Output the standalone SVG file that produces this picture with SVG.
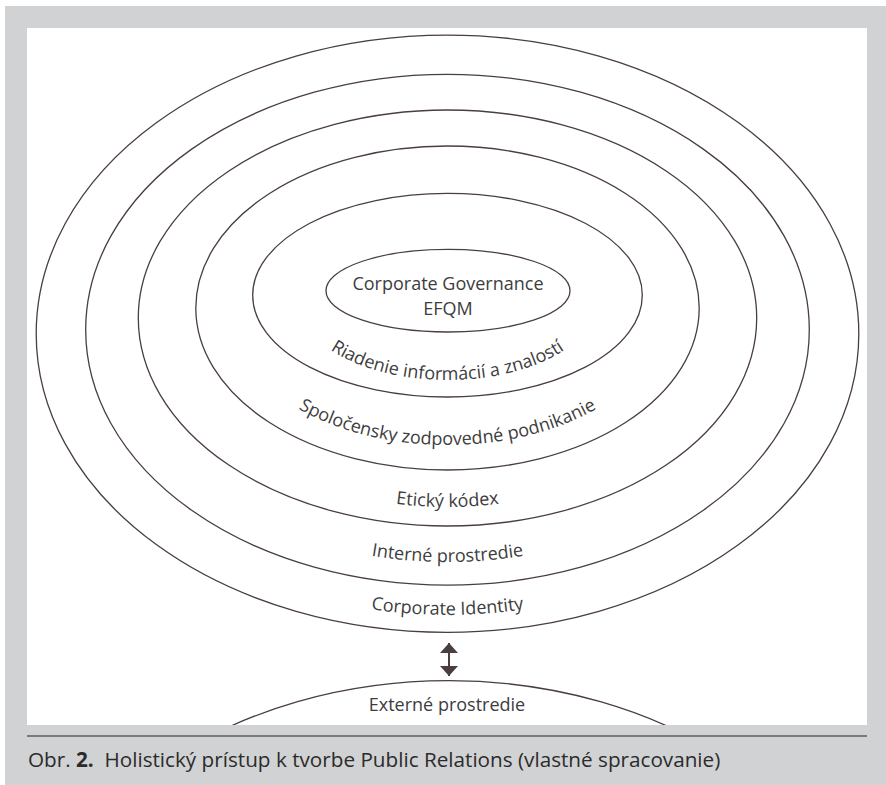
<svg xmlns="http://www.w3.org/2000/svg" width="886" height="785" viewBox="0 0 886 785">
  <style>
    .ring { fill: none; stroke: #4a3e3f; stroke-width: 1.3; }
    .lbl { font-family: "Open Sans", "Liberation Sans", sans-serif; font-size: 18px; fill: #3d3d3d; }
    .cap { font-family: "Open Sans", "Liberation Sans", sans-serif; font-size: 20.7px; fill: #2b2b2b; }
    .conn { stroke: #4a3e3f; stroke-width: 2; fill: none; }
  </style>
  <defs>
    <marker id="head" viewBox="0 0 10 18" refX="10" refY="9" markerWidth="10" markerHeight="18" markerUnits="userSpaceOnUse" orient="auto-start-reverse">
      <path d="M0,0 L10,9 L0,18 z" fill="#4a3e3f"/>
    </marker>
    <clipPath id="panelClip">
      <rect x="27" y="28" width="840" height="697"/>
    </clipPath>
    <!-- baselines for the curved ring labels -->
    <path id="arc1" d="M 299.5 302 A 148 78 0 0 0 595.5 302"/>
    <path id="arc2" d="M 232.5 315 A 215 130 0 0 0 662.5 315"/>
    <path id="arc3" d="M 167.5 317 A 280 190 0 0 0 727.5 317"/>
    <path id="arc4" d="M 112.5 322 A 335 240 0 0 0 782.5 322"/>
    <path id="arc5" d="M 62.5 335 A 385 280 0 0 0 832.5 335"/>
  </defs>

  <!-- frame -->
  <rect x="0" y="0" width="886" height="785" fill="#ffffff"/>
  <rect x="5" y="6" width="881" height="779" fill="#d1d2d4"/>
  <rect x="27" y="28" width="840" height="697" fill="#ffffff"/>

  <!-- rings, outermost first -->
  <g id="corporate-identity">
    <ellipse class="ring" cx="447.5" cy="333.7" rx="411.3" ry="298.6"/>
    <text class="lbl"><textPath href="#arc5" startOffset="50%" text-anchor="middle">Corporate Identity</textPath></text>
  </g>
  <g id="interne-prostredie">
    <ellipse class="ring" cx="447.5" cy="329.7" rx="361.8" ry="255.4"/>
    <text class="lbl"><textPath href="#arc4" startOffset="50%" text-anchor="middle">Interné prostredie</textPath></text>
  </g>
  <g id="eticky-kodex">
    <ellipse class="ring" cx="447.5" cy="318" rx="309.2" ry="208"/>
    <text class="lbl"><textPath href="#arc3" startOffset="50%" text-anchor="middle">Etický kódex</textPath></text>
  </g>
  <g id="spolocensky">
    <ellipse class="ring" cx="447.5" cy="308" rx="251.7" ry="162"/>
    <text class="lbl"><textPath href="#arc2" startOffset="50%" text-anchor="middle">Spoločensky zodpovedné podnikanie</textPath></text>
  </g>
  <g id="riadenie">
    <ellipse class="ring" cx="447.5" cy="295.2" rx="194.8" ry="101.8"/>
    <text class="lbl"><textPath href="#arc1" startOffset="50%" text-anchor="middle">Riadenie informácií a znalostí</textPath></text>
  </g>
  <g id="governance">
    <ellipse class="ring" cx="448" cy="290.7" rx="122" ry="41.3"/>
    <text class="lbl" x="448" y="290" text-anchor="middle">Corporate Governance</text>
    <text class="lbl" x="448" y="315" text-anchor="middle">EFQM</text>
  </g>

  <!-- external environment -->
  <g id="externe-prostredie">
    <ellipse class="ring" cx="449" cy="979.3" rx="411.3" ry="298.6" clip-path="url(#panelClip)"/>
    <text class="lbl" x="447" y="711" text-anchor="middle">Externé prostredie</text>
  </g>

  <!-- connectors -->
  <g id="connectors">
    <line class="conn" x1="449" y1="643" x2="449" y2="676" marker-start="url(#head)" marker-end="url(#head)"/>
  </g>

  <!-- caption -->
  <g id="caption">
    <line x1="27" y1="736" x2="867" y2="736" stroke="#231f20" stroke-width="1"/>
    <text class="cap" x="28" y="767" xml:space="preserve">Obr. <tspan font-weight="bold">2.</tspan>  Holistický prístup k tvorbe Public Relations (vlastné spracovanie)</text>
  </g>
</svg>
